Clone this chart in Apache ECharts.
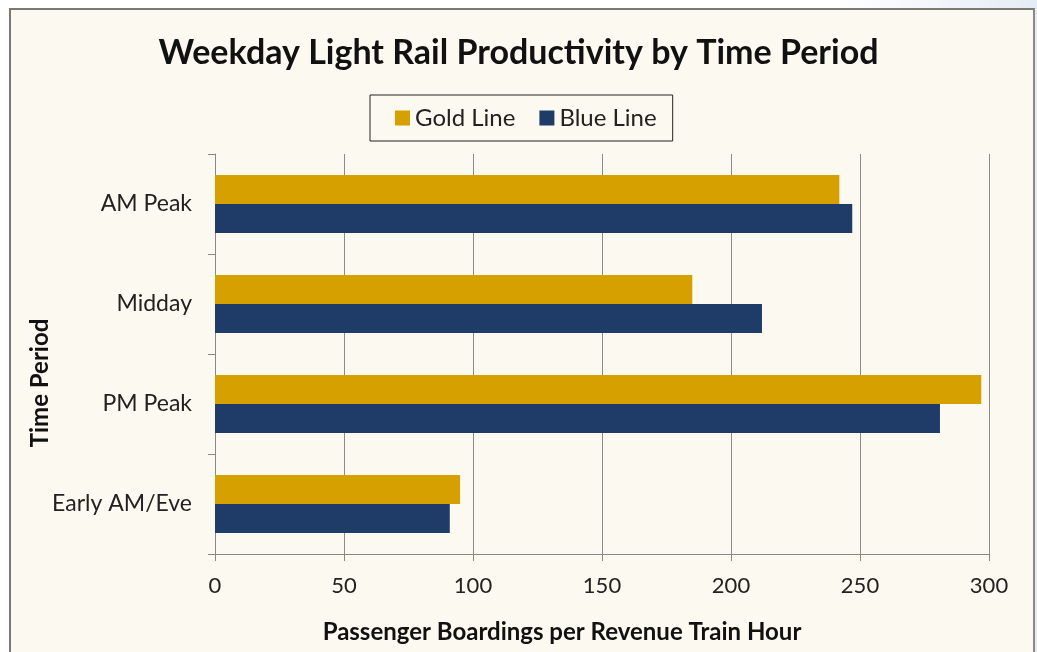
<!DOCTYPE html>
<html><head><meta charset="utf-8">
<script src="https://cdn.jsdelivr.net/npm/echarts@6/dist/echarts.min.js"></script>
<style>
html,body{margin:0;padding:0;width:1037px;height:652px;background:linear-gradient(90deg,#ffffff 0%,#ffffff 80%,#e6ecf6 100%);overflow:hidden}
#frame{position:absolute;left:9px;top:8px;width:1022px;height:644px;background:#FCFAF0;border-left:2px solid #7a7a72;border-top:2px solid #7a7a72;border-right:2px solid #8a8a82}
#c{position:absolute;left:-11px;top:-10px;width:1037px;height:652px}
</style></head>
<body><div id="frame"><div id="c"></div></div>
<script>
const categories = ["AM Peak", "Midday", "PM Peak", "Early AM/Eve"];
const goldLine = [242, 185, 297, 95];
const blueLine = [247, 212, 281, 91];
const xTicks = [0, 50, 100, 150, 200, 250, 300];

const chart = echarts.init(document.getElementById('c'));
const F = 'Lato, "Open Sans", sans-serif';
chart.setOption({
  backgroundColor: 'transparent',
  animation: false,
  title: {
    text: 'Weekday Light Rail Productivity by Time Period',
    left: 'center', top: 31,
    textStyle: { fontFamily: F, fontWeight: 'bold', fontSize: 34, color: '#111' }
  },
  legend: {
    left: 370, top: 95,
    padding: [11, 16, 11, 25],
    itemGap: 24, itemWidth: 15, itemHeight: 15,
    borderColor: '#222', borderWidth: 1,
    icon: 'rect',
    textStyle: { fontFamily: F, fontSize: 24, color: '#222', padding: [0, 0, 0, 0] },
    data: ['Gold Line', 'Blue Line']
  },
  grid: { left: 215, right: 48, top: 154, bottom: 98, containLabel: false },
  xAxis: {
    type: 'value', min: 0, max: 300, interval: 50,
    name: 'Passenger Boardings per Revenue Train Hour',
    nameLocation: 'middle', nameGap: 66, nameMoveOverlap: false,
    nameTextStyle: { fontFamily: F, fontWeight: 'bold', fontSize: 24, color: '#111', padding: [0, 80, 0, 0] },
    axisLine: { show: true, lineStyle: { color: '#888', width: 1 } },
    axisTick: { show: true, length: 7, lineStyle: { color: '#888' } },
    axisLabel: { fontFamily: F, fontSize: 22, color: '#222', margin: 21,
      formatter: v => xTicks.includes(v) ? String(v) : '' },
    splitLine: { show: true, lineStyle: { color: '#8c8c8c', width: 1 } }
  },
  yAxis: {
    type: 'category', data: categories, inverse: true,
    name: 'Time Period', nameLocation: 'middle', nameGap: 163, nameMoveOverlap: false,
    nameTextStyle: { fontFamily: F, fontWeight: 'bold', fontSize: 24, color: '#111', padding: [0, 58, 0, 0] },
    axisLine: { show: true, lineStyle: { color: '#888', width: 1 } },
    axisTick: { show: true, length: 7, lineStyle: { color: '#888' } },
    axisLabel: { fontFamily: F, fontSize: 23, color: '#222', margin: 23, padding: [8, 0, 0, 0] },
    splitLine: { show: false }
  },
  series: [
    { name: 'Gold Line', type: 'bar', data: goldLine, barGap: '0%', barCategoryGap: '42%',
      itemStyle: { color: '#D6A100' } },
    { name: 'Blue Line', type: 'bar', data: blueLine, barGap: '0%', barCategoryGap: '42%',
      itemStyle: { color: '#1F3C68' } }
  ]
});
</script></body></html>
